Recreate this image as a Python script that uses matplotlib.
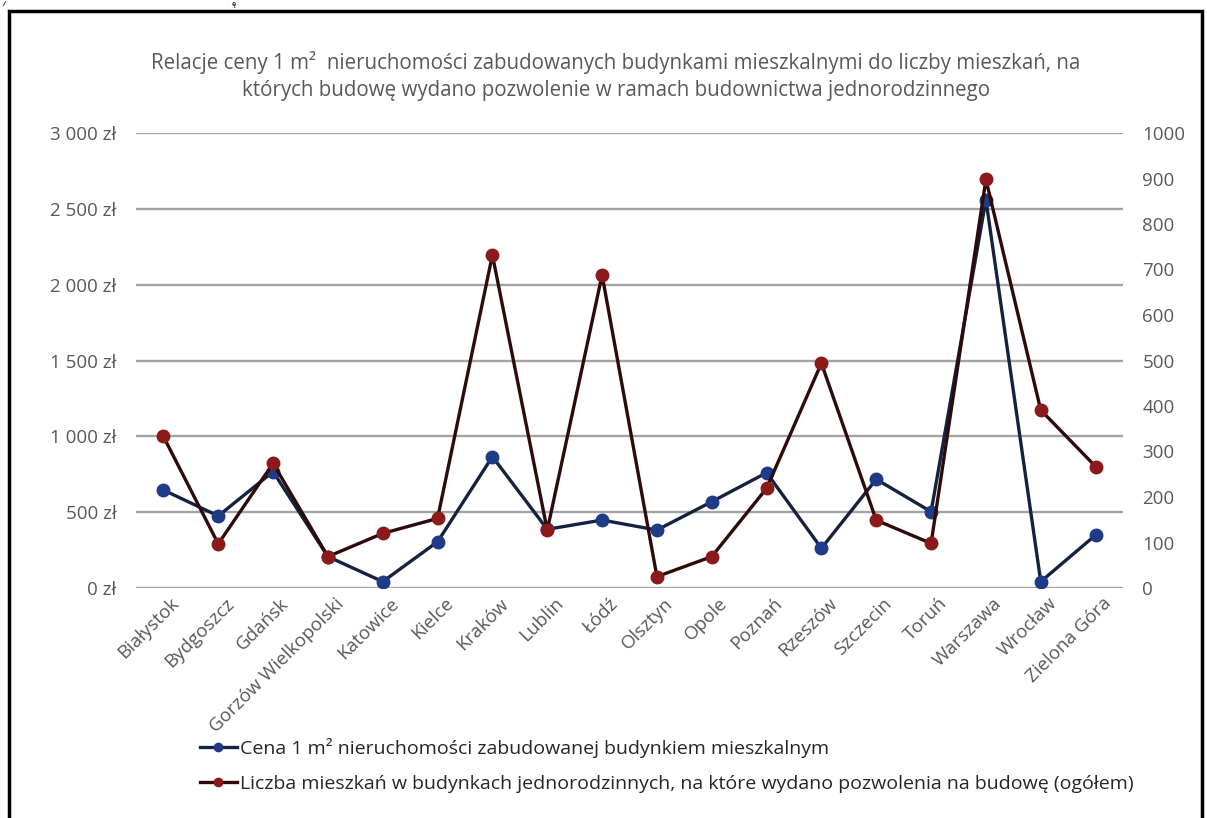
import matplotlib
matplotlib.use("Agg")
import matplotlib.pyplot as plt
from matplotlib.patches import Rectangle
from matplotlib.lines import Line2D
from matplotlib.ticker import FixedLocator, FuncFormatter
import matplotlib.transforms as mtransforms

plt.rcParams['font.family'] = ['Open Sans', 'DejaVu Sans']

# Dane: miasta wojewódzkie
miasta = ['Białystok', 'Bydgoszcz', 'Gdańsk', 'Gorzów Wielkopolski', 'Katowice',
          'Kielce', 'Kraków', 'Lublin', 'Łódź', 'Olsztyn', 'Opole', 'Poznań',
          'Rzeszów', 'Szczecin', 'Toruń', 'Warszawa', 'Wrocław', 'Zielona Góra']

# cena 1 m² nieruchomości zabudowanej budynkiem mieszkalnym [zł]
cena_m2 = [646, 475, 767, 207, 42, 305, 866, 387, 448, 382, 569, 760,
           262, 717, 503, 2560, 42, 349]

# liczba mieszkań w budynkach jednorodzinnych (pozwolenia na budowę)
liczba_mieszkan = [333, 97, 274, 69, 120, 153, 732, 127, 688, 25, 69, 219,
                   494, 149, 98, 898, 391, 267]

lewa_os = [0, 500, 1000, 1500, 2000, 2500, 3000]
prawa_os = [0, 100, 200, 300, 400, 500, 600, 700, 800, 900, 1000]

tytul = ('Relacje ceny 1 m\u00b2  nieruchomości zabudowanych budynkami mieszkalnymi do liczby mieszkań, na\n'
         'których budowę wydano pozwolenie w ramach budownictwa jednorodzinnego')
etykieta_cena = 'Cena 1 m\u00b2 nieruchomości zabudowanej budynkiem mieszkalnym'
etykieta_liczba = 'Liczba mieszkań w budynkach jednorodzinnych, na które wydano pozwolenia na budowę (ogółem)'

kolor_tekstu = '#595959'
niebieski_linia = '#14213f'
niebieski_punkt = '#1f3a86'
czerwony_linia = '#2e0a0a'
czerwony_punkt = '#8b1a1a'

W, H = 1207, 818
fig = plt.figure(figsize=(W / 100, H / 100), dpi=100)
fig.patch.set_facecolor('white')

ax = fig.add_axes([136 / W, 1 - 588 / H, (1123 - 136) / W, (588 - 133) / H])
ax2 = ax.twinx()

x = list(range(len(miasta)))

ax.plot(x, cena_m2, color=niebieski_linia, lw=2.4, marker='o', ms=9,
        mfc=niebieski_punkt, mec=niebieski_punkt, zorder=3)
ax2.plot(x, liczba_mieszkan, color=czerwony_linia, lw=2.4, marker='o', ms=9,
         mfc=czerwony_punkt, mec=czerwony_punkt, zorder=3)

ax.set_xlim(-0.5, len(miasta) - 0.5)
ax.set_ylim(0, 3000)
ax2.set_ylim(0, 1000)

ax.yaxis.set_major_locator(FixedLocator(lewa_os))
ax.yaxis.set_major_formatter(FuncFormatter(lambda v, p: f'{int(v):,} zł'.replace(',', ' ')))
ax2.yaxis.set_major_locator(FixedLocator(prawa_os))

ax.grid(axis='y', color='#a3a3a3', lw=1.7)
ax.set_axisbelow(True)
for a in (ax, ax2):
    for s in a.spines.values():
        s.set_visible(False)
    a.tick_params(length=0, labelsize=13.5, labelcolor=kolor_tekstu)
ax.tick_params(axis='y', pad=14)
ax2.tick_params(axis='y', pad=14)

# etykiety osi X obrócone o 45 stopni
ax.set_xticks(x)
ax.set_xticklabels(miasta, rotation=45, ha='right', va='center', rotation_mode='anchor',
                   fontsize=13.5, color=kolor_tekstu)
przesun = mtransforms.ScaledTranslation(13 / 100, -8 / 100, fig.dpi_scale_trans)
for lab in ax.get_xticklabels():
    lab.set_transform(lab.get_transform() + przesun)

fig.text(616 / W, 1 - 76 / H, tytul, ha='center', va='center', fontsize=14.8,
         color=kolor_tekstu, linespacing=1.35)

# legenda
uchwyty = [
    Line2D([], [], color=niebieski_linia, lw=2.4, marker='o', ms=6,
           mfc=niebieski_punkt, mec=niebieski_punkt),
    Line2D([], [], color=czerwony_linia, lw=2.4, marker='o', ms=6,
           mfc=czerwony_punkt, mec=czerwony_punkt),
]
fig.legend(uchwyty, [etykieta_cena, etykieta_liczba], loc='upper left',
           bbox_to_anchor=(190 / W, 1 - 728 / H), frameon=False, fontsize=14,
           labelcolor='#262626', handlelength=1.9, handletextpad=0.15,
           labelspacing=0.9, borderpad=0)

# ramka wykresu
fig.patches.append(Rectangle((9 / W, -0.05), (1202 - 9) / W, 1.05 - 11 / H,
                             transform=fig.transFigure, fill=False,
                             edgecolor='black', lw=2.5))

# fragmenty tekstu nad ramką
fig.text(2 / W, 1 - 1 / H, '/', ha='left', va='top', fontsize=5,
         color='#1f3864', style='italic', fontweight='bold')
fig.text(232 / W, 1 - 1 / H, 'ę', ha='left', va='top', fontsize=5,
         color='#1f3864', fontweight='bold')

fig.savefig('out.png', dpi=100)
